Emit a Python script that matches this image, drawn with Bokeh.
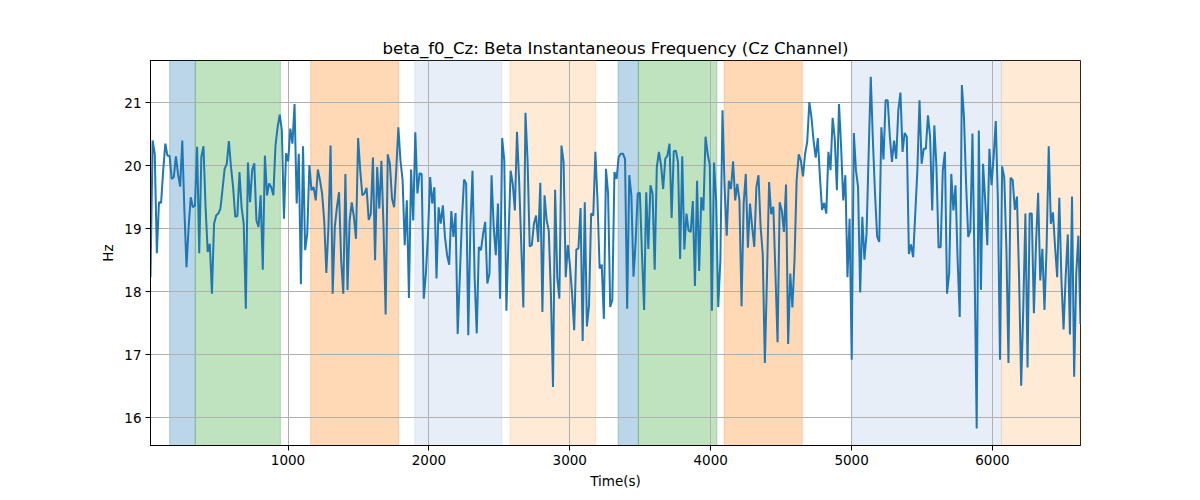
import numpy as np
from bokeh.plotting import figure
from bokeh.models import Range1d, FixedTicker
from bokeh.embed import file_html
from bokeh.resources import INLINE

# ---- data ----
t_start = 24.0
t_end = 6625.0

hz_seg1 = [18.23, 20.40, 20.19, 18.61, 19.42, 19.41, 19.93, 20.35, 20.16, 20.16,
           19.79, 19.82, 20.15, 19.87, 19.67, 20.40, 19.29, 18.39, 19.03, 19.50,
           19.34, 19.37, 20.30, 18.61, 20.14, 20.31, 19.34, 18.63, 18.76, 17.97,
           19.08, 19.21, 19.24, 19.32, 19.63, 19.95, 20.03, 20.39, 19.98, 19.66,
           19.19, 19.20, 19.90, 19.34, 19.08, 17.73, 20.05, 19.42, 19.93, 20.04,
           19.13, 19.03, 19.53, 18.35, 20.16, 19.53, 19.72, 19.66, 19.53, 20.32,
           20.61, 20.81, 20.56, 19.16, 20.20, 20.07, 20.59, 20.35, 20.98, 19.40,
           20.19, 18.12, 20.31, 18.66, 18.92, 20.01, 19.61, 19.66, 19.45, 19.94,
           19.77, 19.56, 19.13, 18.30, 19.03, 20.32, 17.97, 19.03]
hz_seg2 = [19.34, 19.58, 18.50, 17.97, 19.87, 18.03, 19.13, 19.42, 19.19, 18.84,
           20.44, 19.93, 19.53, 19.56, 19.65, 19.14, 19.24, 20.13, 18.50, 19.98,
           19.32, 20.08, 19.03, 17.64, 20.18, 20.03, 19.48, 19.34, 19.93, 20.61,
           20.08, 19.77, 18.74, 19.45, 17.90, 19.94, 19.13, 20.53, 19.56, 19.88,
           19.87, 17.89, 18.29, 18.92, 19.82, 19.40, 19.66, 18.21, 19.34, 19.08,
           19.37, 18.87, 18.58, 18.43, 19.28, 18.87, 19.25, 17.33, 18.23, 19.13,
           19.78, 19.72, 17.31, 19.03, 19.92, 18.23, 17.34, 18.71, 18.66, 18.92,
           19.11, 18.13, 18.29, 19.85, 19.03, 18.58, 19.40, 17.89, 20.44, 20.08,
           17.70, 18.87, 19.92, 19.71, 19.29, 20.54, 19.77, 18.76, 17.75]
hz_seg3 = [20.84, 20.08, 18.72, 18.74, 19.08, 19.21, 18.79, 19.73, 17.68, 19.53,
           19.13, 18.97, 17.97, 16.49, 19.62, 18.23, 17.89, 20.32, 20.06, 18.23,
           18.74, 18.42, 17.97, 17.39, 18.67, 18.69, 19.33, 17.22, 19.42, 17.45,
           17.78, 19.24, 19.21, 20.22, 19.45, 18.37, 18.43, 17.57, 19.95, 19.56,
           17.76, 17.87, 19.90, 19.79, 20.14, 20.19, 20.19, 20.11, 17.73, 19.85,
           19.53, 18.24, 18.79, 19.56, 19.57, 18.60, 17.71, 19.58, 18.68, 19.69,
           19.56, 18.35, 19.98, 20.22, 20.01, 19.63, 20.11, 20.16, 20.35, 19.17,
           20.23, 20.24, 20.06, 18.52, 20.15, 18.67, 19.24, 18.97, 18.95, 19.44,
           18.09, 19.76, 18.33, 19.50, 19.29, 20.46, 20.19]
hz_seg4 = [20.01, 17.70, 20.05, 19.45, 17.76, 18.50, 20.88, 19.66, 18.89, 19.76,
           19.63, 20.07, 19.45, 19.71, 19.45, 17.77, 19.40, 19.87, 18.70, 19.40,
           19.03, 18.71, 19.66, 19.85, 19.03, 18.60, 16.87, 18.23, 19.74, 19.23,
           19.35, 18.29, 17.20, 19.42, 19.29, 18.95, 19.70, 17.17, 18.29, 17.75,
           18.50, 19.77, 20.18, 20.08, 19.83, 20.19, 20.38, 21.01, 20.77, 20.40,
           20.13, 20.44, 19.82, 19.30, 19.41, 19.24, 20.22, 19.93, 20.76, 20.43,
           19.61, 20.98, 20.30, 19.45, 19.85, 18.23, 19.16, 16.92, 20.52, 19.93,
           19.66, 17.99, 19.19, 18.51, 18.92, 20.19, 21.41, 20.40, 19.56, 18.88,
           18.79, 20.61, 20.10, 21.04, 21.04, 20.46, 20.06, 20.40]
hz_seg5 = [20.11, 20.88, 21.16, 20.22, 20.52, 20.46, 18.60, 18.75, 18.55, 19.24,
           19.93, 21.04, 20.03, 20.27, 20.27, 20.80, 20.46, 19.29, 20.64, 19.98,
           18.70, 18.71, 19.93, 20.22, 17.97, 18.29, 19.87, 19.29, 19.69, 18.50,
           17.60, 21.28, 20.77, 19.71, 18.87, 18.97, 20.51, 18.39, 15.83, 20.56,
           18.03, 20.03, 19.45, 18.74, 20.27, 19.69, 20.14, 20.71, 19.45, 16.92,
           19.99, 19.82, 18.71, 16.87, 19.81, 19.77, 19.30, 19.51, 18.23, 16.51,
           17.76, 19.24, 16.80, 19.24, 19.24, 17.66, 18.76, 19.57, 18.18, 18.68,
           17.71, 18.71, 20.31, 19.08, 19.26, 18.71, 18.23, 19.49, 18.18, 17.40,
           18.24, 18.91, 17.32, 19.51, 16.65, 18.29, 18.89, 17.49]

hz = hz_seg1 + hz_seg2 + hz_seg3 + hz_seg4 + hz_seg5
t = np.linspace(t_start, t_end, len(hz))

# shaded phases (start, end in seconds)
span_start = [160, 342, 1161, 1900, 2575, 3343, 3487, 4096, 5007, 6064]
span_end = [342, 946, 1784, 2518, 3184, 3487, 4044, 4650, 6064, 6625]
span_color = ["#1f77b4", "#2ca02c", "#ff7f0e", "#aec7e8", "#ffbb78",
              "#1f77b4", "#2ca02c", "#ff7f0e", "#aec7e8", "#ffbb78"]

x_ticks = [1000, 2000, 3000, 4000, 5000, 6000]
y_ticks = [16, 17, 18, 19, 20, 21]
y_lo, y_hi = 15.56, 21.67

FONT = "DejaVu Sans"

p = figure(width=1200, height=500, output_backend="svg", toolbar_location=None,
           x_range=Range1d(t_start, t_end), y_range=Range1d(y_lo, y_hi),
           title="beta_f0_Cz: Beta Instantaneous Frequency (Cz Channel)",
           x_axis_label="Time(s)", y_axis_label="Hz")
p.min_border_left = 150
p.min_border_right = 120
p.min_border_top = 60
p.min_border_bottom = 55

p.title.align = "center"
p.title.text_font = FONT
p.title.text_font_size = "16.6px"
p.title.text_font_style = "normal"
p.title.text_color = "black"
p.title.standoff = 6

for sc, sec, col in zip(span_start, span_end, span_color):
    r = p.quad(left=sc, right=sec, bottom=y_lo - 10, top=y_hi + 10,
               fill_color=col, fill_alpha=0.3, line_color=col, line_alpha=0.3,
               line_width=1)
    r.level = "image"

ln = p.line(t, hz, line_color="#1f77b4", line_width=2)
ln.level = "glyph"

p.outline_line_color = "black"
p.outline_line_width = 1
p.outline_line_alpha = 1.0

for ax in (p.xaxis[0], p.yaxis[0]):
    ax.axis_line_color = "black"
    ax.major_tick_line_color = "black"
    ax.major_tick_out = 5
    ax.major_tick_in = 0
    ax.minor_tick_line_color = None
    ax.major_label_text_font = FONT
    ax.major_label_text_font_size = "13.5px"
    ax.major_label_text_color = "black"
    ax.axis_label_text_font = FONT
    ax.axis_label_text_font_size = "13.5px"
    ax.axis_label_text_font_style = "normal"
    ax.axis_label_text_color = "black"
    ax.major_label_standoff = 4
    ax.axis_label_standoff = 5

p.xaxis[0].ticker = FixedTicker(ticks=x_ticks)
p.yaxis[0].ticker = FixedTicker(ticks=y_ticks)

p.xgrid.grid_line_color = "#b0b0b0"
p.ygrid.grid_line_color = "#b0b0b0"
p.xgrid.grid_line_width = 1
p.ygrid.grid_line_width = 1
p.background_fill_color = "white"
p.border_fill_color = "white"

open("out.html", "w").write(file_html(p, INLINE))
